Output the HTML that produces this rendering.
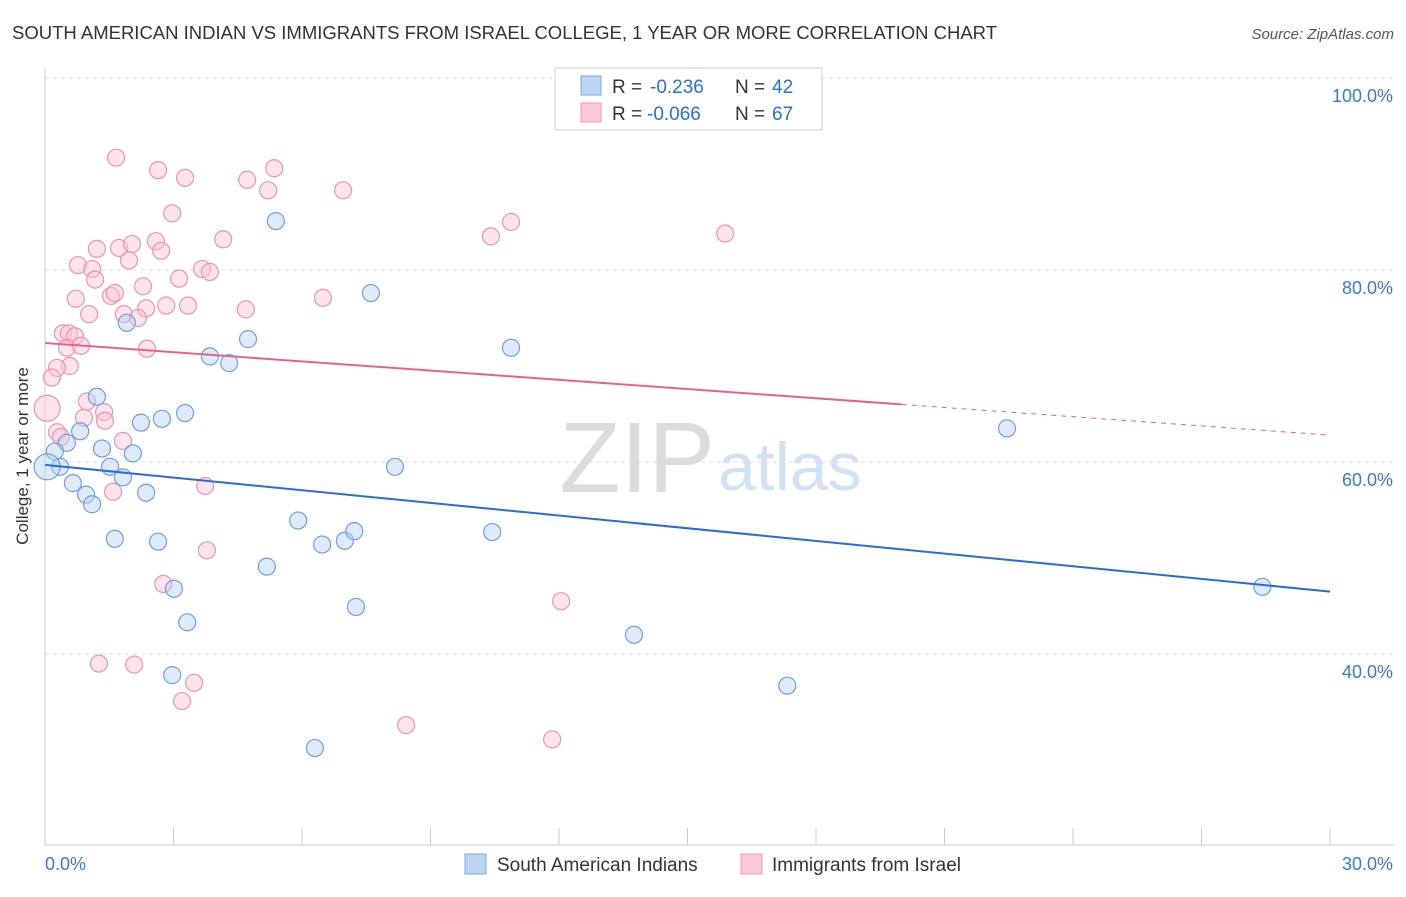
<!DOCTYPE html>
<html><head><meta charset="utf-8"><style>
body{margin:0;background:#fff;font-family:"Liberation Sans",sans-serif;}
svg text{font-family:"Liberation Sans",sans-serif;}
</style></head><body>
<svg id="chart" width="1406" height="892">
<text x="12" y="39" font-size="18.3" fill="#333" textLength="985" lengthAdjust="spacingAndGlyphs">SOUTH AMERICAN INDIAN VS IMMIGRANTS FROM ISRAEL COLLEGE, 1 YEAR OR MORE CORRELATION CHART</text>
<text x="1394" y="39" font-size="15" fill="#555" font-style="italic" text-anchor="end">Source: ZipAtlas.com</text>
<text x="28" y="456" font-size="17" fill="#333" text-anchor="middle" transform="rotate(-90 28 456)">College, 1 year or more</text>
<g id="grid"></g>
<text x="715" y="492" font-size="100" fill="#dcdcdc" text-anchor="end" font-family="Liberation Serif">ZIP</text>
<text x="718" y="490" font-size="68" fill="#d2e1f3">atlas</text>
<g id="pts"></g>
<g id="lines"></g>
<g>
<rect x="555" y="68" width="267" height="62" fill="#fff" stroke="#ccc"/>
<rect x="581" y="76" width="20" height="19" fill="#bcd4f5" stroke="#7aa7e3"/>
<rect x="581" y="103" width="20" height="19" fill="#fcc9d8" stroke="#ee9ab5"/>
<text x="612" y="93" font-size="19" fill="#333">R =</text>
<text x="650" y="93" font-size="19" fill="#2c6fd6">-0.236</text>
<text x="735" y="93" font-size="19" fill="#333">N =</text>
<text x="772" y="93" font-size="19" fill="#2c6fd6">42</text>
<text x="612" y="120" font-size="19" fill="#333">R =</text>
<text x="647" y="120" font-size="19" fill="#2c6fd6">-0.066</text>
<text x="735" y="120" font-size="19" fill="#333">N =</text>
<text x="772" y="120" font-size="19" fill="#2c6fd6">67</text>
</g>
<g>
<rect x="465" y="854" width="21" height="20" fill="#bcd4f5" stroke="#7aa7e3"/>
<text x="497" y="871" font-size="19" fill="#333">South American Indians</text>
<rect x="741" y="854" width="21" height="20" fill="#fcc9d8" stroke="#ee9ab5"/>
<text x="772" y="871" font-size="19" fill="#333">Immigrants from Israel</text>
</g>
</svg>
<script>
const xTicks=[0,3,6,9,12,15,18,21,24,27,30];
const yTicks=[40,60,80,100];
const yTickLabels=["40.0%","60.0%","80.0%","100.0%"];
const blueX=[5.39,7.61,1.91,4.74,3.85,4.30,10.88,1.21,3.27,2.73,2.24,0.82,0.51,0.23,1.33,2.05,0.35,1.52,8.17,22.46,0.65,1.82,0.96,1.10,2.36,5.91,1.63,2.64,6.47,7.00,7.22,10.44,5.18,3.01,7.26,3.32,13.75,2.97,17.33,6.30,28.42,0.05];
const blueY=[85.1,77.6,74.5,72.8,71.0,70.3,71.9,66.8,65.1,64.5,64.1,63.2,62.0,61.1,61.4,60.9,59.5,59.5,59.5,63.5,57.8,58.4,56.6,55.6,56.8,53.9,52.0,51.7,51.4,51.8,52.8,52.7,49.1,46.8,44.9,43.3,42.0,37.8,36.7,30.2,47.0,59.5];
const pinkX=[1.66,2.64,3.27,5.35,4.72,5.21,6.96,2.97,10.88,10.41,15.88,4.16,2.59,1.21,1.73,2.03,2.71,1.96,0.77,1.10,3.67,3.85,3.13,1.17,2.29,0.72,1.54,1.63,2.83,3.34,2.36,4.69,6.49,1.03,1.84,2.17,0.42,0.56,0.70,0.51,0.84,2.38,0.58,0.28,0.16,0.98,0.05,1.38,0.91,1.40,0.28,0.37,1.82,3.74,1.59,3.78,2.76,12.05,1.26,2.08,3.48,3.20,8.43,11.84];
const pinkY=[91.7,90.4,89.6,90.6,89.4,88.3,88.3,85.9,85.0,83.5,83.8,83.2,83.0,82.2,82.3,82.7,82.0,81.0,80.5,80.1,80.1,79.8,79.1,79.0,78.3,77.0,77.3,77.6,76.3,76.3,76.0,75.9,77.1,75.4,75.4,75.0,73.4,73.4,73.1,71.9,72.1,71.8,70.0,69.8,68.8,66.3,65.6,65.2,64.6,64.3,63.1,62.6,62.2,57.5,56.9,50.8,47.3,45.5,39.0,38.9,37.0,35.1,32.6,31.1];
const blueTrend=[59.7,46.5];
const pinkTrend=[72.4,62.8];
const pinkSolidEnd=20;
const NS="http://www.w3.org/2000/svg";
const X=v=>45+v/30*1285;
const Y=v=>462-(v-60)*9.6;
function mk(t,a,p){const e=document.createElementNS(NS,t);for(const k in a)e.setAttribute(k,a[k]);p.appendChild(e);return e;}
const grid=document.getElementById('grid');
yTicks.forEach((t,i)=>{
 const l=mk('line',{x1:45,x2:1394,y1:Y(t),y2:Y(t),stroke:'#ddd','stroke-dasharray':'4,4'},grid);
 
 
 const tx=mk('text',{x:1393,y:Y(t)+24,'font-size':18,fill:'#3a78d4','text-anchor':'end'},grid);
 tx.textContent=yTickLabels[i];
 
 
});
mk('line',{x1:45,x2:45,y1:68,y2:845,stroke:'#ccc'},grid);
mk('line',{x1:45,x2:1394,y1:845,y2:845,stroke:'#ccc'},grid);
xTicks.forEach(t=>{const l=mk('line',{x1:X(t),x2:X(t),y1:828,y2:845,stroke:'#ccc'},grid);
 
 });
const x0=mk('text',{x:45,y:870,'font-size':18,fill:'#3a78d4'},grid);x0.textContent='0.0%';


const x1=mk('text',{x:1393,y:870,'font-size':18,fill:'#3a78d4','text-anchor':'end'},grid);x1.textContent='30.0%';


const pts=document.getElementById('pts');
function dots(xs,ys,fill,stroke,name){xs.forEach((x,i)=>{const big=(x<0.1);
 const c=mk('circle',{cx:X(x),cy:Y(ys[i]),r:big?13:8.5,fill:fill,'fill-opacity':0.45,stroke:stroke,'stroke-width':1.2},pts);
 
 });}
dots(pinkX,pinkY,'#fbc4d4','#ec93b0','israel-point');
dots(blueX,blueY,'#b7d0f2','#6f9fe0','south-american-indian-point');
const lines=document.getElementById('lines');
const bl=mk('line',{x1:X(0),y1:Y(blueTrend[0]),x2:X(30),y2:Y(blueTrend[1]),stroke:'#2a6dd6','stroke-width':2},lines);


const pm=pinkTrend[0]+(pinkTrend[1]-pinkTrend[0])*pinkSolidEnd/30;
const pl=mk('line',{x1:X(0),y1:Y(pinkTrend[0]),x2:X(pinkSolidEnd),y2:Y(pm),stroke:'#e8628f','stroke-width':2},lines);


const pd=mk('line',{x1:X(pinkSolidEnd),y1:Y(pm),x2:X(30),y2:Y(pinkTrend[1]),stroke:'#e8628f','stroke-width':1,'stroke-dasharray':'5,5'},lines);


</script>
</body></html>
